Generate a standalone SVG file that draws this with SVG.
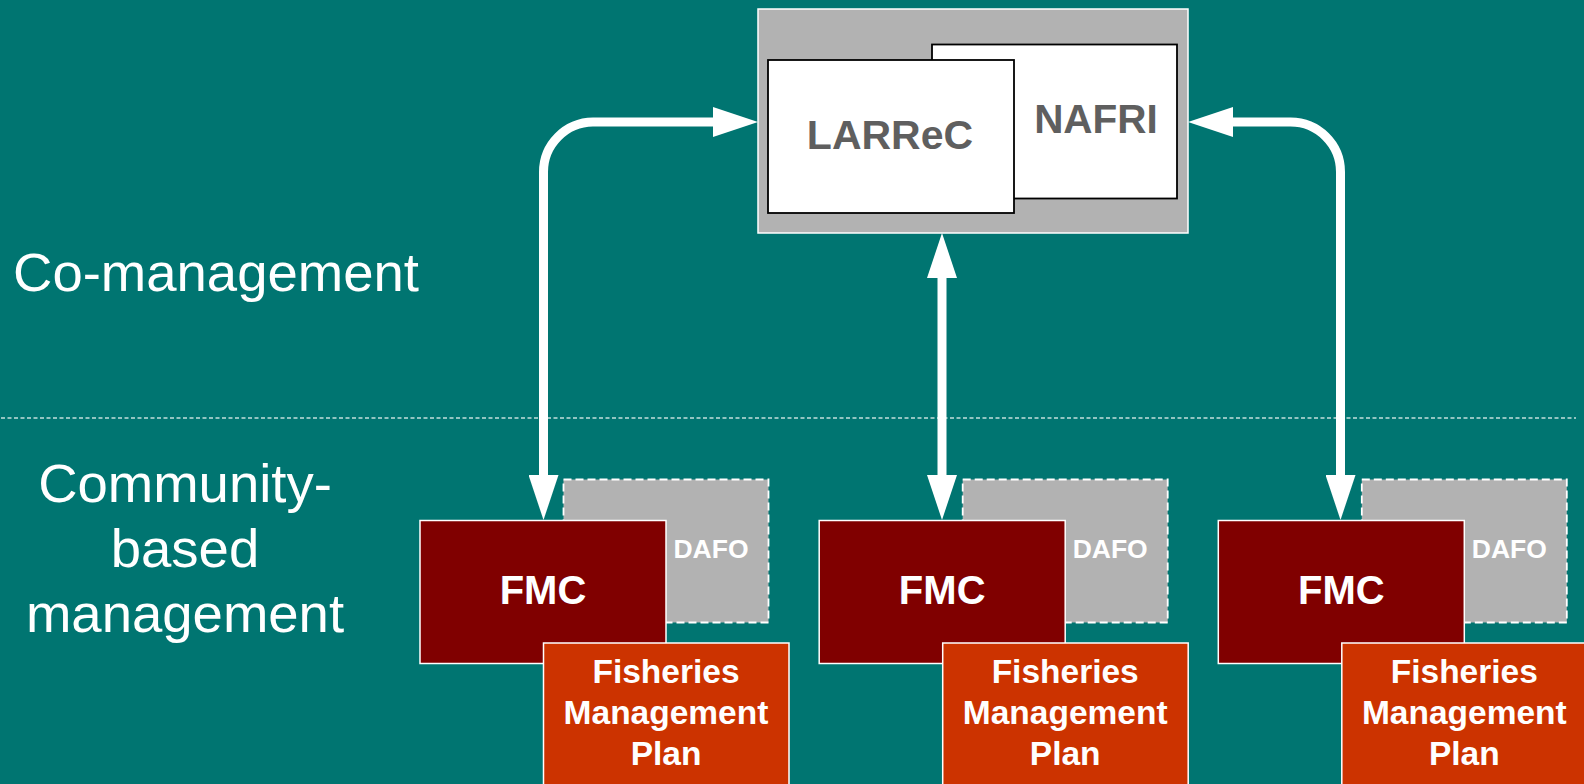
<svg xmlns="http://www.w3.org/2000/svg" width="1584" height="784" viewBox="0 0 1584 784">
<style>
  .lbl{font-family:"Liberation Sans",Arial,sans-serif;fill:#ffffff;font-size:54.5px;text-anchor:middle}
  .b{font-family:"Liberation Sans",Arial,sans-serif;font-weight:bold;text-anchor:middle}
  .org{fill:#ffffff;stroke:#000000;stroke-width:1.8}
  .dafo{fill:#B2B2B2;stroke:#ffffff;stroke-width:1.8;stroke-dasharray:8 4}
  .fmc{fill:#800000;stroke:#ffffff;stroke-width:1.5}
  .fmp{fill:#CC3300;stroke:#ffffff;stroke-width:1.5}
  .conn{fill:none;stroke:#ffffff;stroke-width:9}
</style>
<defs>
  <marker id="ah" viewBox="0 0 45 30" refX="0" refY="15" markerWidth="45" markerHeight="30" markerUnits="userSpaceOnUse" orient="auto-start-reverse">
    <polygon points="0,0 45,15 0,30" fill="#ffffff"/>
  </marker>
</defs>
<rect width="1584" height="784" fill="#007571"/>
<line x1="1" y1="418" x2="1576" y2="418" stroke="#C4DEDB" stroke-width="1.3" stroke-dasharray="4 2.5"/>
<g id="label-comanagement"><text class="lbl" x="216" y="291">Co-management</text></g>
<g id="label-community">
  <text class="lbl" x="185" y="502">Community-</text>
  <text class="lbl" x="185" y="567">based</text>
  <text class="lbl" x="185" y="632">management</text>
</g>
<g id="institutions">
  <rect x="758" y="9" width="430" height="224" fill="#B2B2B2" stroke="#ffffff" stroke-width="1.5"/>
  <g id="nafri">
    <rect class="org" x="932" y="44.5" width="245" height="154"/>
    <text class="b" x="1096" y="133" font-size="40.5" fill="#5F5F5F">NAFRI</text>
  </g>
  <g id="larrec">
    <rect class="org" x="768" y="60" width="246" height="153"/>
    <text class="b" x="890" y="149" font-size="41" fill="#5F5F5F">LARReC</text>
  </g>
</g>
<g id="connectors">
  <path class="conn" d="M713,122 H593 A50,50 0 0 0 543.5,172 V475" marker-start="url(#ah)" marker-end="url(#ah)"/>
  <path class="conn" d="M942,278 V475" marker-start="url(#ah)" marker-end="url(#ah)"/>
  <path class="conn" d="M1233,122 H1290 A50,50 0 0 1 1340.5,172 V475" marker-start="url(#ah)" marker-end="url(#ah)"/>
</g>
<g id="community1">
  <g id="dafo1"><rect class="dafo" x="563.5" y="479.5" width="205" height="143"/><text class="b" x="711" y="558" font-size="26.5" fill="#ffffff">DAFO</text></g>
  <g id="fmc1"><rect class="fmc" x="420" y="520.5" width="246" height="143"/><text class="b" x="543" y="604" font-size="40" fill="#ffffff">FMC</text></g>
  <g id="fmp1"><rect class="fmp" x="543.5" y="643" width="245.5" height="160"/>
    <text class="b" x="666" y="683" font-size="33.5" fill="#ffffff">Fisheries</text>
    <text class="b" x="666" y="724" font-size="33.5" fill="#ffffff">Management</text>
    <text class="b" x="666" y="765" font-size="33.5" fill="#ffffff">Plan</text></g>
</g>
<g id="community2" transform="translate(399.2,0)">
  <g id="dafo2"><rect class="dafo" x="563.5" y="479.5" width="205" height="143"/><text class="b" x="711" y="558" font-size="26.5" fill="#ffffff">DAFO</text></g>
  <g id="fmc2"><rect class="fmc" x="420" y="520.5" width="246" height="143"/><text class="b" x="543" y="604" font-size="40" fill="#ffffff">FMC</text></g>
  <g id="fmp2"><rect class="fmp" x="543.5" y="643" width="245.5" height="160"/>
    <text class="b" x="666" y="683" font-size="33.5" fill="#ffffff">Fisheries</text>
    <text class="b" x="666" y="724" font-size="33.5" fill="#ffffff">Management</text>
    <text class="b" x="666" y="765" font-size="33.5" fill="#ffffff">Plan</text></g>
</g>
<g id="community3" transform="translate(798.3,0)">
  <g id="dafo3"><rect class="dafo" x="563.5" y="479.5" width="205" height="143"/><text class="b" x="711" y="558" font-size="26.5" fill="#ffffff">DAFO</text></g>
  <g id="fmc3"><rect class="fmc" x="420" y="520.5" width="246" height="143"/><text class="b" x="543" y="604" font-size="40" fill="#ffffff">FMC</text></g>
  <g id="fmp3"><rect class="fmp" x="543.5" y="643" width="245.5" height="160"/>
    <text class="b" x="666" y="683" font-size="33.5" fill="#ffffff">Fisheries</text>
    <text class="b" x="666" y="724" font-size="33.5" fill="#ffffff">Management</text>
    <text class="b" x="666" y="765" font-size="33.5" fill="#ffffff">Plan</text></g>
</g>
</svg>
